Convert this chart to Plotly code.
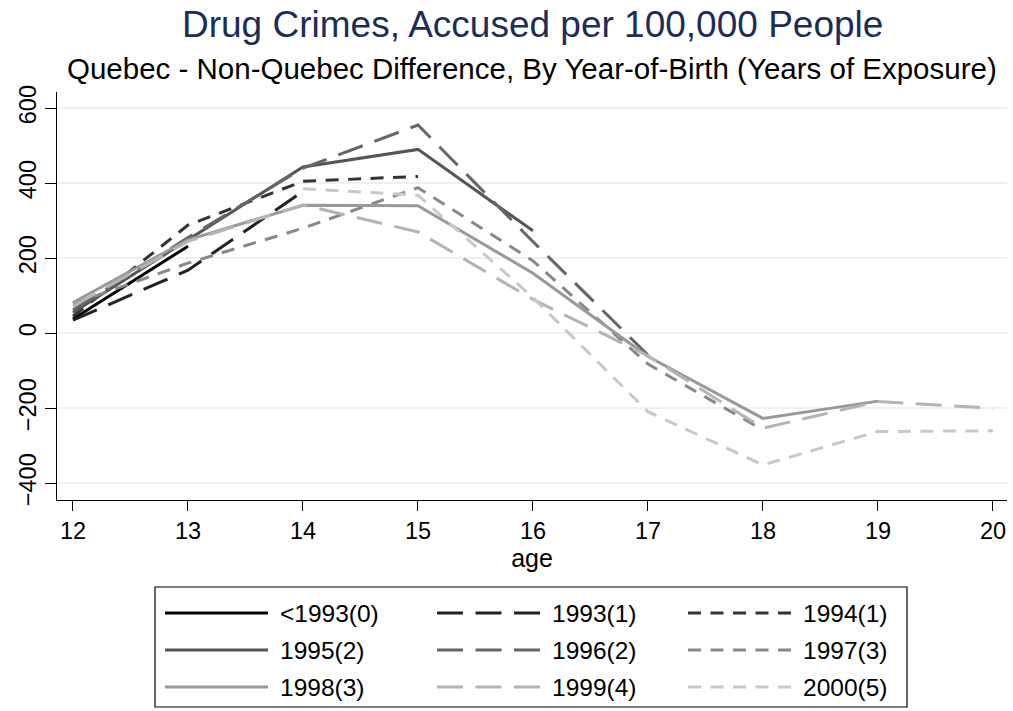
import plotly.graph_objects as go

# Ages on the horizontal axis
ages = [12, 13, 14, 15, 16, 17, 18, 19, 20]

# Quebec minus non-Quebec difference, accused per 100,000, by birth cohort
diff_pre1993 = [38, 232, None, None, None, None, None, None, None]
diff_1993 = [35, 168, 378, None, None, None, None, None, None]
diff_1994 = [45, 288, 405, 418, None, None, None, None, None]
diff_1995 = [55, 250, 443, 490, 273, None, None, None, None]
diff_1996 = [62, 255, 440, 555, 244, -58, None, None, None]
diff_1997 = [78, 187, 280, 388, 193, -82, -258, None, None]
diff_1998 = [82, 249, 341, 340, 160, -62, -227, -181, None]
diff_1999 = [72, 245, 342, 270, 90, -60, -253, -182, -200]
diff_2000 = [None, None, 385, 368, 95, -209, -351, -262, -260]

cohort_labels = ["<1993(0)", "1993(1)", "1994(1)", "1995(2)", "1996(2)",
                 "1997(3)", "1998(3)", "1999(4)", "2000(5)"]
cohort_values = [diff_pre1993, diff_1993, diff_1994, diff_1995, diff_1996,
                 diff_1997, diff_1998, diff_1999, diff_2000]

y_ticks = [-400, -200, 0, 200, 400, 600]

# Line styles: grey ramp, cycling solid / long dash / short dash
colors = ["#000000", "#222222", "#333333", "#555555", "#666666",
          "#888888", "#999999", "#b4b4b4", "#c8c8c8"]
LONG = "26px,12.5px"
SHORT = "13px,9.5px"
dashes = ["solid", LONG, SHORT] * 3

FONT = "Liberation Sans, Arial, Helvetica, sans-serif"
W, H = 1013, 711
PL, PR, PT, PB = 57, 1007, 92, 500


def paper_x(px):
    return (px - PL) / (PR - PL)


def paper_y(py):
    return (PB - py) / (PB - PT)


fig = go.Figure()
for label, vals, col, dash in zip(cohort_labels, cohort_values, colors, dashes):
    fig.add_trace(go.Scatter(
        x=ages, y=vals, mode="lines", name=label,
        line=dict(color=col, width=3, dash=dash),
        connectgaps=False, showlegend=False,
    ))

# Boxed legend, three entries per row
shapes = [dict(type="rect", xref="paper", yref="paper",
               x0=paper_x(155), x1=paper_x(907), y0=paper_y(707), y1=paper_y(587),
               line=dict(color="#000000", width=1.2), fillcolor="white")]
annotations = []
col_starts = [165, 437, 688]
row_centers = [613, 650, 687]
line_len = 103
for i, label in enumerate(cohort_labels):
    r, c = divmod(i, 3)
    x0 = col_starts[c]
    yc = row_centers[r]
    shapes.append(dict(type="line", xref="paper", yref="paper",
                       x0=paper_x(x0), x1=paper_x(x0 + line_len),
                       y0=paper_y(yc), y1=paper_y(yc),
                       line=dict(color=colors[i], width=3, dash=dashes[i])))
    annotations.append(dict(xref="paper", yref="paper",
                            x=paper_x(x0 + line_len + 10), y=paper_y(yc),
                            xanchor="left", yanchor="middle", showarrow=False,
                            text=label, font=dict(family=FONT, size=24.5, color="#000000")))

annotations.append(dict(xref="paper", yref="paper", x=0.5, y=paper_y(25),
                        xanchor="center", yanchor="middle", showarrow=False,
                        text="Drug Crimes, Accused per 100,000 People",
                        font=dict(family=FONT, size=37, color="#1c2d58")))
annotations.append(dict(xref="paper", yref="paper", x=0.5, y=paper_y(68),
                        xanchor="center", yanchor="middle", showarrow=False,
                        text="Quebec - Non-Quebec Difference, By Year-of-Birth (Years of Exposure)",
                        font=dict(family=FONT, size=29.5, color="#000000")))

fig.update_layout(
    width=W, height=H,
    margin=dict(l=PL, r=W - PR, t=PT, b=H - PB, pad=0),
    paper_bgcolor="white", plot_bgcolor="white",
    font=dict(family=FONT, color="#000000"),
    shapes=shapes, annotations=annotations,
    showlegend=False,
)
fig.update_xaxes(
    range=[11.861, 20.122], tickvals=ages, ticks="outside", ticklen=10,
    tickwidth=1, tickcolor="#000000", showline=True, linecolor="#000000",
    linewidth=1, showgrid=False, zeroline=False,
    tickfont=dict(family=FONT, size=23.5),
    title=dict(text="age", font=dict(family=FONT, size=25), standoff=6),
)
fig.update_yaxes(
    range=[-444.5, 643], tickvals=y_ticks, ticks="outside", ticklen=11,
    tickwidth=1, tickcolor="#000000", showline=True, linecolor="#000000",
    linewidth=1, showgrid=True, gridcolor="#eaf2f3", gridwidth=1.5,
    zeroline=False, tickangle=-90, tickfont=dict(family=FONT, size=23.5),
)

fig.write_html("out.html")
